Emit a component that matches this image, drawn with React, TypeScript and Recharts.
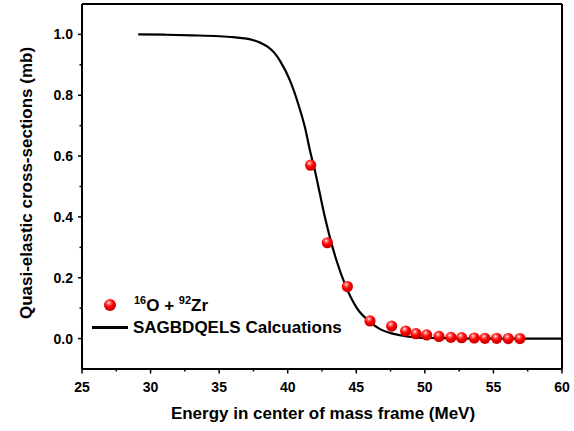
import React from 'react';
import { ComposedChart, Line, Scatter, XAxis, YAxis, ReferenceLine, Legend } from 'recharts';

// SAGBDQELS calculation
const calcE = [29.1, 31, 33, 35, 36, 37, 37.5, 38, 38.5, 39, 39.44, 40.17, 40.77, 41.26, 41.63, 41.99, 42.35, 42.72, 43.08, 43.57, 44.18, 45.03, 46.0, 46.73, 47.5, 48.3, 49.2, 50.4, 52, 55, 60];
const calcSigma = [1.0, 0.999, 0.997, 0.994, 0.991, 0.986, 0.981, 0.973, 0.961, 0.941, 0.913, 0.848, 0.771, 0.694, 0.617, 0.551, 0.475, 0.398, 0.332, 0.255, 0.178, 0.101, 0.055, 0.031, 0.018, 0.01, 0.004, 0.002, 0.001, 0, 0];

// 16O + 92Zr experimental points
const expE = [41.67, 42.89, 44.35, 46.0, 47.58, 48.6, 49.35, 50.13, 51.03, 51.9, 52.68, 53.6, 54.38, 55.23, 56.08, 56.93];
const expSigma = [0.57, 0.315, 0.171, 0.058, 0.041, 0.025, 0.016, 0.012, 0.007, 0.004, 0.003, 0.002, 0.001, 0.001, 0.0, 0.0];

const xMajor = [25, 30, 35, 40, 45, 50, 55, 60];
const xMinor = [27.5, 32.5, 37.5, 42.5, 47.5, 52.5, 57.5];
const yMajor = [0, 0.2, 0.4, 0.6, 0.8, 1.0];
const yMinor = [0.1, 0.3, 0.5, 0.7, 0.9];

const calcData = calcE.map((x, i) => ({ x, y: calcSigma[i] }));
const expData = expE.map((x, i) => ({ x, y: expSigma[i] }));

const FONT = '"Liberation Sans", Arial, sans-serif';

const XTick = (props: any) => {
  const { x, y, payload } = props;
  const major = xMajor.includes(payload.value);
  return (
    <g>
      <line x1={x} y1={y} x2={x} y2={y + (major ? 4.5 : 2.5)} stroke="#000" strokeWidth={1.5} />
      {major && (
        <text x={x} y={y + 22.5} textAnchor="middle" fontFamily={FONT} fontWeight="bold" fontSize={14} fill="#000">
          {payload.value}
        </text>
      )}
    </g>
  );
};

const YTick = (props: any) => {
  const { x, y, payload } = props;
  const major = yMajor.some((v) => Math.abs(v - payload.value) < 1e-6);
  return (
    <g>
      <line x1={x} y1={y} x2={x - (major ? 4 : 2.5)} y2={y} stroke="#000" strokeWidth={1.5} />
      {major && (
        <text x={x - 9} y={y + 5} textAnchor="end" fontFamily={FONT} fontWeight="bold" fontSize={14} fill="#000">
          {payload.value.toFixed(1)}
        </text>
      )}
    </g>
  );
};

const Ball = (props: any) => {
  const { cx, cy } = props;
  if (cx == null || cy == null) return null;
  return <circle cx={cx} cy={cy} r={5.6} fill="url(#ball)" />;
};

const LegendBox = () => (
  <div style={{ position: 'relative', width: 280, height: 50, fontFamily: FONT, fontWeight: 'bold', fontSize: 17, color: '#000' }}>
    <svg width={14} height={14} style={{ position: 'absolute', left: 15, top: 6 }}>
      <defs>
        <radialGradient id="ballLeg" cx="40%" cy="32%" r="70%">
          <stop offset="0%" stopColor="#ffffff" />
          <stop offset="18%" stopColor="#ff7070" />
          <stop offset="50%" stopColor="#ff0000" />
          <stop offset="100%" stopColor="#c00000" />
        </radialGradient>
      </defs>
      <circle cx={7} cy={7} r={6} fill="url(#ballLeg)" />
    </svg>
    <div style={{ position: 'absolute', left: 46, top: 4.5, lineHeight: '17px', whiteSpace: 'nowrap' }}>
      <span style={{ fontSize: 11, position: 'relative', top: -7 }}>16</span>O +{' '}
      <span style={{ fontSize: 11, position: 'relative', top: -7 }}>92</span>Zr
    </div>
    <div style={{ position: 'absolute', left: 4, top: 34, width: 36, height: 2.5, background: '#000' }} />
    <div style={{ position: 'absolute', left: 45, top: 26.5, lineHeight: '17px', whiteSpace: 'nowrap' }}>
      SAGBDQELS Calcuations
    </div>
  </div>
);

export default function App() {
  return (
    <div style={{ position: 'absolute', left: 0, top: 0, width: 574, height: 431, background: '#fff' }}>
      <ComposedChart width={574} height={431} margin={{ top: 4, right: 12, left: 22, bottom: 32 }}>
        <defs>
          <radialGradient id="ball" cx="40%" cy="32%" r="70%">
            <stop offset="0%" stopColor="#ffffff" />
            <stop offset="18%" stopColor="#ff7070" />
            <stop offset="50%" stopColor="#ff0000" />
            <stop offset="100%" stopColor="#c00000" />
          </radialGradient>
        </defs>
        <XAxis
          dataKey="x"
          type="number"
          domain={[25, 60]}
          ticks={[...xMajor, ...xMinor].sort((a, b) => a - b)}
          interval={0}
          tickSize={0}
          tickMargin={0}
          tick={<XTick />}
          tickLine={false}
          axisLine={{ stroke: '#000', strokeWidth: 2 }}
          height={30}
          allowDataOverflow
          label={{
            content: () => (
              <text x={323} y={419} textAnchor="middle" fontFamily={FONT} fontWeight="bold" fontSize={17} fill="#000">
                Energy in center of mass frame (MeV)
              </text>
            ),
          }}
        />
        <YAxis
          dataKey="y"
          type="number"
          domain={[-0.1, 1.1]}
          ticks={[...yMajor, ...yMinor].sort((a, b) => a - b)}
          interval={0}
          tickSize={0}
          tickMargin={0}
          tick={<YTick />}
          tickLine={false}
          axisLine={{ stroke: '#000', strokeWidth: 2 }}
          width={60}
          allowDataOverflow
          label={{
            content: () => (
              <text
                x={31.5}
                y={183}
                transform="rotate(-90 31.5 183)"
                textAnchor="middle"
                fontFamily={FONT}
                fontWeight="bold"
                fontSize={17}
                fill="#000"
              >
                Quasi-elastic cross-sections (mb)
              </text>
            ),
          }}
        />
        <ReferenceLine y={1.1} stroke="#000" strokeWidth={2} />
        <ReferenceLine x={60} stroke="#000" strokeWidth={2} />
        <Line
          data={calcData}
          dataKey="y"
          type="monotone"
          stroke="#000"
          strokeWidth={2.2}
          dot={false}
          activeDot={false}
          isAnimationActive={false}
        />
        <Scatter data={expData} dataKey="y" shape={<Ball />} isAnimationActive={false} />
        <Legend
          layout="vertical"
          align="center"
          verticalAlign="middle"
          wrapperStyle={{ left: 88, top: 292, width: 280 }}
          content={() => <LegendBox />}
        />
      </ComposedChart>
    </div>
  );
}
